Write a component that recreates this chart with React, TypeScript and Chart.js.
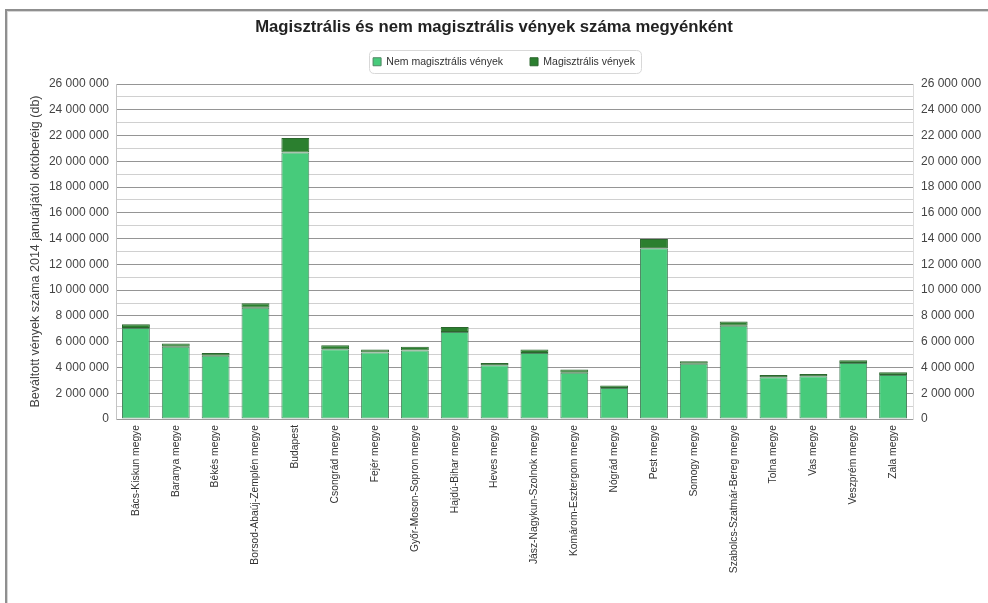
import React, { useEffect, useRef } from "react";
import { Chart, registerables } from "chart.js";

Chart.register(...registerables);

const categories = [
  "Bács-Kiskun megye",
  "Baranya megye",
  "Békés megye",
  "Borsod-Abaúj-Zemplén megye",
  "Budapest",
  "Csongrád megye",
  "Fejér megye",
  "Győr-Moson-Sopron megye",
  "Hajdú-Bihar megye",
  "Heves megye",
  "Jász-Nagykun-Szolnok megye",
  "Komárom-Esztergom megye",
  "Nógrád megye",
  "Pest megye",
  "Somogy megye",
  "Szabolcs-Szatmár-Bereg megye",
  "Tolna megye",
  "Vas megye",
  "Veszprém megye",
  "Zala megye",
];

const nemMagisztralis = [
  7070000, 5600000, 4900000, 8630000, 20680000, 5420000, 5160000, 5320000, 6760000, 4170000,
  5130000, 3580000, 2410000, 13250000, 4280000, 7230000, 3240000, 3320000, 4350000, 3420000,
];

const magisztralis = [
  290000, 260000, 230000, 360000, 1120000, 310000, 230000, 280000, 390000, 180000,
  260000, 260000, 190000, 720000, 210000, 340000, 180000, 180000, 210000, 210000,
];

const yMin = 0;
const yMax = 26000000;
const yStep = 1000000;
const labelStep = 2000000;

const titleText = "Magisztrális és nem magisztrális vények száma megyénként";
const yTitleText = "Beváltott vények száma 2014 januárjától októberéig (db)";
const seriesNames = ["Nem magisztrális vények", "Magisztrális vények"];

const fmt = (v: number) => String(v).replace(/\B(?=(\d{3})+(?!\d))/g, " ");

const FONT = "'Liberation Sans', Arial, sans-serif";

const W = 988;
const H = 603;
const PLOT_TOP = 84;
const PLOT_BOTTOM = 419;
const PLOT_LEFT = 116;
const PLOT_RIGHT = 913;

const bgPlugin = {
  id: "bgPlugin",
  afterLayout(chart: any) {
    // lift title + legend so there is a gap between the legend and the plot
    const dy = -7;
    const dx = 10;
    const lg = chart.legend;
    const tb = chart.titleBlock;
    if (tb) {
      tb.top += dy;
      tb.bottom += dy;
    }
    if (lg) {
      lg.top += dy;
      lg.bottom += dy;
      lg.left += dx;
      lg.right += dx;
    }
  },
  beforeDraw(chart: any) {
    const ctx = chart.ctx;
    ctx.save();
    ctx.fillStyle = "#ffffff";
    ctx.fillRect(0, 0, chart.width, chart.height);
    ctx.fillStyle = "#8f8f8f";
    ctx.fillRect(5, 9, chart.width - 5, 2);
    ctx.fillRect(5, 9, 2, chart.height - 9);
    ctx.fillStyle = "#d6d6d6";
    ctx.fillRect(7, 11, chart.width - 7, 1);
    ctx.fillRect(7, 11, 1, chart.height - 11);
    ctx.restore();
  },
  afterDraw(chart: any) {
    const lg = chart.legend;
    if (!lg || !lg.legendHitBoxes || !lg.legendHitBoxes.length) return;
    const hb = lg.legendHitBoxes;
    const first = hb[0];
    const last = hb[hb.length - 1];
    const left = first.left - 4;
    const right = last.left + last.width + 6;
    const cy = first.top + first.height / 2;
    const top = cy - 11.5;
    const h = 23;
    const r = 5;
    const ctx = chart.ctx;
    ctx.save();
    ctx.strokeStyle = "#d8d8d8";
    ctx.lineWidth = 1;
    ctx.beginPath();
    const x0 = Math.round(left) + 0.5;
    const y0 = Math.round(top) + 0.5;
    const x1 = Math.round(right) + 0.5;
    const y1 = Math.round(top + h) + 0.5;
    ctx.moveTo(x0 + r, y0);
    ctx.lineTo(x1 - r, y0);
    ctx.quadraticCurveTo(x1, y0, x1, y0 + r);
    ctx.lineTo(x1, y1 - r);
    ctx.quadraticCurveTo(x1, y1, x1 - r, y1);
    ctx.lineTo(x0 + r, y1);
    ctx.quadraticCurveTo(x0, y1, x0, y1 - r);
    ctx.lineTo(x0, y0 + r);
    ctx.quadraticCurveTo(x0, y0, x0 + r, y0);
    ctx.stroke();
    ctx.restore();
  },
};

export default function App() {
  const ref = useRef<HTMLCanvasElement | null>(null);

  useEffect(() => {
    if (!ref.current) return;
    Chart.defaults.font.family = FONT;
    const tickFont = { size: 12, family: FONT };
    const yTicks = {
      autoSkip: false,
      stepSize: yStep,
      padding: 7,
      color: "#444",
      font: tickFont,
      callback: (v: any) => (Number(v) % labelStep === 0 ? fmt(Number(v)) : ""),
    };
    const chart = new Chart(ref.current, {
      type: "bar",
      data: {
        labels: categories,
        datasets: [
          {
            label: seriesNames[0],
            data: nemMagisztralis,
            backgroundColor: "#47cb7b",
            borderColor: "#4f8663",
            borderWidth: 1,
            borderSkipped: false,
            barPercentage: 0.7,
            categoryPercentage: 1,
          },
          {
            label: seriesNames[1],
            data: magisztralis,
            backgroundColor: "#2b7f2f",
            borderColor: "#2b662d",
            borderWidth: 1,
            borderSkipped: false,
            barPercentage: 0.7,
            categoryPercentage: 1,
          },
        ],
      },
      options: {
        responsive: false,
        animation: false,
        devicePixelRatio: 1,
        layout: { padding: 0 },
        plugins: {
          title: {
            display: true,
            text: titleText,
            color: "#222",
            font: { size: 16.7, weight: "bold", family: FONT },
            padding: { top: 18, bottom: -8 },
          },
          legend: {
            display: true,
            position: "top",
            labels: {
              boxWidth: 8,
              boxHeight: 8,
              padding: 27,
              color: "#333",
              font: { size: 10.5, family: FONT },
            },
          },
          tooltip: { enabled: false },
        },
        scales: {
          x: {
            stacked: true,
            grid: { display: false, drawTicks: false },
            border: { display: true, color: "#999" },
            ticks: {
              autoSkip: false,
              maxRotation: 90,
              minRotation: 90,
              padding: 6,
              color: "#333",
              font: { size: 10.3, family: FONT },
            },
            afterFit: (s: any) => {
              s.height = H - PLOT_BOTTOM;
            },
          },
          y: {
            stacked: true,
            position: "left",
            min: yMin,
            max: yMax,
            ticks: yTicks,
            grid: {
              drawTicks: false,
              lineWidth: 1,
              color: (c: any) =>
                c.tick && c.tick.value % labelStep === 0 ? "#959595" : "#d0d0d0",
            },
            border: { display: true, color: "#c4c4c4" },
            title: {
              display: true,
              text: yTitleText,
              color: "#444",
              font: { size: 12.5, family: FONT },
              padding: { top: 28, bottom: 0 },
            },
            afterFit: (s: any) => {
              s.width = PLOT_LEFT;
              s.paddingTop = PLOT_TOP;
            },
          },
          y2: {
            position: "right",
            min: yMin,
            max: yMax,
            ticks: { ...yTicks, padding: 8 },
            grid: { display: false, drawTicks: false },
            border: { display: true, color: "#dddddd" },
            afterFit: (s: any) => {
              s.width = W - PLOT_RIGHT;
            },
          },
        },
      },
      plugins: [bgPlugin],
    } as any);
    return () => chart.destroy();
  }, []);

  return (
    <canvas
      ref={ref}
      width={W}
      height={H}
      style={{ position: "absolute", left: 0, top: 0, width: W, height: H }}
    />
  );
}
